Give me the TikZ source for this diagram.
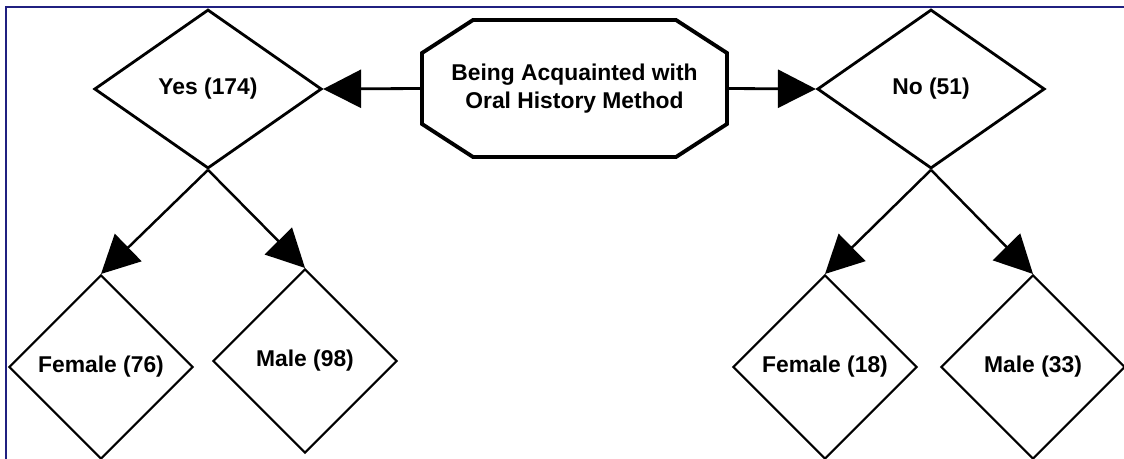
\documentclass[tikz,border=0pt]{standalone}
\usepackage{fontspec}
\setmainfont{Liberation Sans}
\usetikzlibrary{shapes.geometric,arrows.meta}
\definecolor{framenavy}{RGB}{32,32,128}
\begin{document}
\begin{tikzpicture}[x=0.02cm,y=-0.02cm,
  lbl/.style={font=\fontsize{13}{15.5}\selectfont\bfseries},
  topdia/.style={diamond,draw,lbl,inner sep=0pt,aspect=1.43,line width=1.6pt,minimum width=4.55cm,minimum height=3.18cm},
  botdia/.style={diamond,draw,lbl,inner sep=0pt,aspect=1,line width=1.2pt,minimum width=3.68cm,minimum height=3.68cm},
  octo/.style={rectangle,lbl,align=center,inner sep=0pt,outer sep=0pt,minimum width=6.1cm,minimum height=2.74cm},
  arr/.style={line width=1.6pt,-{Triangle[length=0.76cm,width=0.76cm]}}]
\useasboundingbox (0,0) rectangle (1124,459);
% frame, only left and top edges show
\draw[framenavy,line width=1.1pt] (6,459) -- (6,7) -- (1124,7);
% nodes
\node[octo] (root) at (574.5,88.5) {Being Acquainted with\\Oral History Method};
\draw[line width=2.2pt,line join=miter] ([xshift=1.02cm]root.north west) -- ([xshift=-1.02cm]root.north east)
  -- ([yshift=-0.66cm]root.north east) -- ([yshift=0.66cm]root.south east)
  -- ([xshift=-1.02cm]root.south east) -- ([xshift=1.02cm]root.south west)
  -- ([yshift=0.66cm]root.south west) -- ([yshift=-0.66cm]root.north west) -- cycle;
\node[topdia] (yes) at (208,89) {Yes (174)};
\node[topdia] (no) at (931,89) {No (51)};
\node[botdia] (yesf) at (101,367) {Female (76)};
\node[botdia] (yesm) at (305,361) {Male (98)};
\node[botdia] (nof) at (825,367) {Female (18)};
\node[botdia] (nom) at (1033,367) {Male (33)};
% connectors
\draw[arr] (root.west) -- (yes.east);
\draw[arr] (root.east) -- (no.west);
\draw[arr,line width=1.4pt] (yes.south) -- (yesf.north);
\draw[arr,line width=1.4pt] (yes.south) -- (yesm.north);
\draw[arr,line width=1.4pt] (no.south) -- (nof.north);
\draw[arr,line width=1.4pt] (no.south) -- (nom.north);
\end{tikzpicture}
\end{document}
